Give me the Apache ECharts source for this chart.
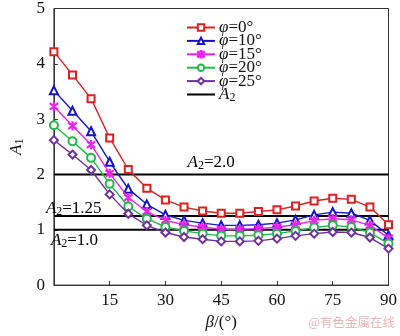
<!DOCTYPE html>
<html>
<head>
<meta charset="utf-8">
<script src="https://cdn.jsdelivr.net/npm/echarts@6/dist/echarts.min.js"></script>
<style>
  html, body { margin: 0; padding: 0; background: #fff; }
  #chart { width: 400px; height: 336px; }
</style>
</head>
<body>
<div id="chart"></div>
<script>
// Inclination angle β (degrees)
const beta = [0, 5, 10, 15, 20, 25, 30, 35, 40, 45, 50, 55, 60, 65, 70, 75, 80, 85, 90];

// A1 for each friction angle φ
const phi0  = [4.22, 3.80, 3.37, 2.66, 2.09, 1.75, 1.54, 1.41, 1.34, 1.30, 1.30, 1.33, 1.36, 1.43, 1.52, 1.57, 1.55, 1.41, 1.09];
const phi10 = [3.52, 3.15, 2.78, 2.23, 1.74, 1.46, 1.27, 1.17, 1.12, 1.08, 1.08, 1.09, 1.12, 1.18, 1.27, 1.32, 1.30, 1.17, 0.90];
const phi15 = [3.23, 2.88, 2.54, 2.02, 1.58, 1.33, 1.17, 1.09, 1.05, 1.01, 1.01, 1.02, 1.05, 1.09, 1.17, 1.20, 1.18, 1.08, 0.85];
const phi20 = [2.89, 2.60, 2.30, 1.83, 1.42, 1.20, 1.05, 0.98, 0.93, 0.89, 0.89, 0.90, 0.93, 0.98, 1.04, 1.08, 1.05, 0.95, 0.75];
const phi25 = [2.62, 2.36, 2.08, 1.64, 1.29, 1.08, 0.95, 0.87, 0.83, 0.79, 0.79, 0.80, 0.84, 0.89, 0.93, 0.96, 0.95, 0.86, 0.66];

// Reference levels of A2
const a2Levels = [2.0, 1.25, 1.0];
const a2Text = ['2.0', '1.25', '1.0'];

const phiNames = ['0°', '10°', '15°', '20°', '25°'];
const phiData = [phi0, phi10, phi15, phi20, phi25];
const colors = ['#dd2020', '#1414c8', '#ee22ee', '#22b848', '#7030a0'];
const asterisk = 'path://M4.4,0H5.6V10H4.4Z M0.2,1.9 L0.8,0.9 L9.8,8.1 L9.2,9.1Z M0.2,8.1 L9.2,0.9 L9.8,1.9 L0.8,9.1Z';
const symbols = ['emptyRect', 'emptyTriangle', asterisk, 'emptyCircle', 'emptyDiamond'];
const symbolSizes = [7, 8, 8, 8, 8];
// Plain thick bar for the A2 legend entry (corner specks keep the box size)
const barIcon = 'path://M0,2.9H28V5.1H0Z M0,0H0.01V0.01H0Z M27.99,7.99H28V8H27.99Z';

const serif = '"Liberation Serif", "Times New Roman", serif';
const richBase = {
  i: { fontFamily: serif, fontStyle: 'italic', fontSize: 17, lineHeight: 18, color: '#111' },
  n: { fontFamily: serif, fontSize: 17, lineHeight: 18, color: '#111' },
  s: { fontFamily: serif, fontSize: 12, lineHeight: 9, verticalAlign: 'bottom', color: '#111' }
};

const chart = echarts.init(document.getElementById('chart'), null, { renderer: 'canvas' });

const series = phiData.map((d, k) => ({
  name: 'φ=' + phiNames[k],
  type: 'line',
  data: beta.map((b, j) => [b, d[j]]),
  symbol: symbols[k],
  symbolSize: symbolSizes[k],
  showAllSymbol: true,
  smooth: false,
  lineStyle: { color: colors[k], width: 1.4 },
  itemStyle: { color: colors[k], borderColor: colors[k], borderWidth: 1.2 },
  z: 3 + k
}));

a2Levels.forEach(v => {
  series.push({
    name: 'A₂',
    type: 'line',
    data: [[beta[0], v], [beta[beta.length - 1], v]],
    showSymbol: false,
    symbol: 'none',
    lineStyle: { color: '#000', width: 2 },
    itemStyle: { color: '#000' },
    z: 2
  });
});

chart.setOption({
  animation: false,
  backgroundColor: '#fff',
  grid: {
    left: 43, right: 8, top: 7, bottom: 48,
    show: true, borderColor: '#333', borderWidth: 1
  },
  legend: {
    orient: 'vertical',
    left: 181,
    top: 14,
    itemWidth: 28,
    itemHeight: 8,
    itemGap: -3.6,
    data: series.slice(0, 5).map(s => s.name).concat([{ name: 'A₂', icon: barIcon, itemStyle: { color: '#000' } }]),
    formatter: name => {
      if (name === 'A₂') return '{i|A}{s|2}';
      return '{i|φ}{n|' + name.slice(1) + '}';
    },
    textStyle: { rich: richBase, padding: [0, 0, 0, -1] }
  },
  xAxis: {
    type: 'value',
    min: 0, max: 90, interval: 15,
    name: '{i|β}{n|/(°)}',
    nameLocation: 'middle',
    nameGap: 25,
    nameTextStyle: { rich: richBase },
    axisLine: { show: true, lineStyle: { color: '#333', width: 1 } },
    axisTick: { show: true, inside: true, length: 4, lineStyle: { color: '#333' } },
    axisLabel: {
      showMinLabel: false,
      margin: 7,
      fontFamily: serif, fontSize: 17, color: '#111'
    },
    splitLine: { show: false }
  },
  yAxis: {
    type: 'value',
    min: 0, max: 5, interval: 1,
    name: '{i|A}{s|1}',
    nameLocation: 'middle',
    nameRotate: 90,
    nameGap: 23,
    nameTextStyle: { rich: richBase },
    axisLine: { show: true, lineStyle: { color: '#333', width: 1 } },
    axisTick: { show: true, inside: true, length: 4, lineStyle: { color: '#333' } },
    axisLabel: {
      margin: 9,
      fontFamily: serif, fontSize: 17, color: '#111'
    },
    splitLine: { show: false }
  },
  series: series
});

// Annotate each A2 level next to its line
const labelSpots = [
  { x: 45, dx: -10, dy: -12, align: 'center' },
  { x: 0, dx: -8, dy: -7, align: 'left' },
  { x: 0, dx: -3, dy: 11, align: 'left' }
];
const graphics = a2Levels.map((v, k) => {
  const p = chart.convertToPixel({ xAxisIndex: 0, yAxisIndex: 0 }, [labelSpots[k].x, v]);
  return {
    type: 'text',
    x: p[0] + labelSpots[k].dx,
    y: p[1] + labelSpots[k].dy,
    style: {
      text: '{i|A}{s|2}{n|=' + a2Text[k] + '}',
      rich: richBase,
      align: labelSpots[k].align,
      verticalAlign: 'middle'
    },
    z: 10
  };
});
graphics.push({
  type: 'text',
  right: 5,
  bottom: 7,
  style: {
    text: '@有色金属在线',
    fontFamily: '"Noto Sans CJK SC", sans-serif',
    fontSize: 12.5,
    fill: '#f0b4b4'
  },
  z: 10
});
chart.setOption({ graphic: graphics });
</script>
</body>
</html>
